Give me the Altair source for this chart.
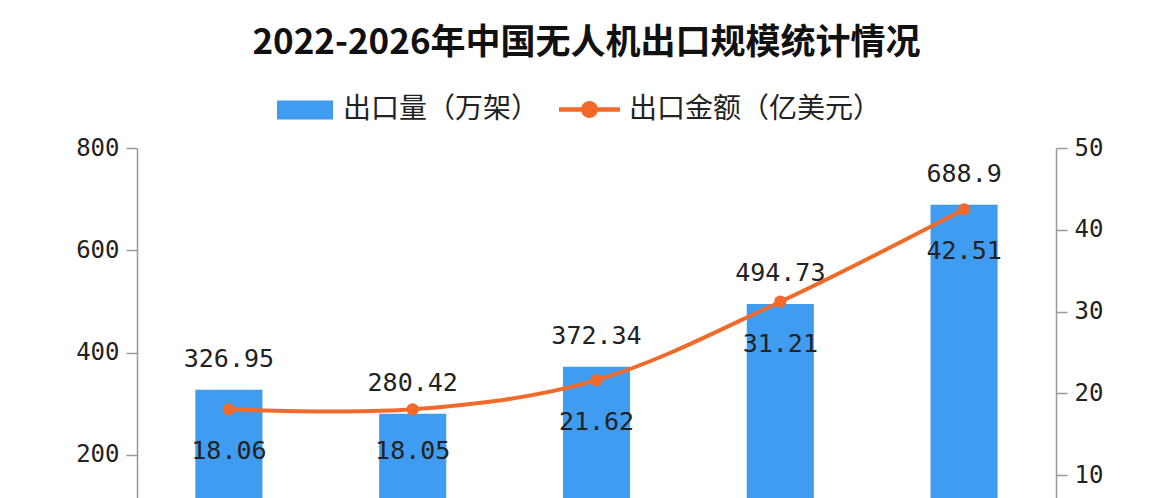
import altair as alt
import pandas as pd

years = ["2022", "2023", "2024", "2025E", "2026E"]
volume = [326.95, 280.42, 372.34, 494.73, 688.9]
volume_labels = ["326.95", "280.42", "372.34", "494.73", "688.9"]
amount = [18.06, 18.05, 21.62, 31.21, 42.51]
amount_labels = ["18.06", "18.05", "21.62", "31.21", "42.51"]

s_volume = "出口量（万架）"
s_amount = "出口金额（亿美元）"

BLUE = "#3F9CF0"
ORANGE = "#F26A2B"
NUM_FONT = "DejaVu Sans Mono"
CJK_FONT = "Noto Sans CJK SC"

df = pd.DataFrame({
    "year": years,
    "volume": volume,
    "vlabel": volume_labels,
    "amount": amount,
    "alabel": amount_labels,
    "s1": [s_volume] * len(years),
    "s2": [s_amount] * len(years),
})

axis_common = dict(
    title=None, grid=False, domainColor="#999999", tickColor="#999999",
    domainWidth=1.5, tickWidth=1.5, tickSize=11,
    labelFont=NUM_FONT, labelFontSize=24, labelColor="#222222",
)

x = alt.X("year:N", sort=years,
          scale=alt.Scale(paddingInner=0.635, paddingOuter=0.3175),
          axis=alt.Axis(labelAngle=0, ticks=False, labelPadding=20, **axis_common))

base = alt.Chart(df).encode(x=x)

y_left = alt.Y("volume:Q", scale=alt.Scale(domain=[0, 800]),
               axis=alt.Axis(orient="left", values=[0, 200, 400, 600, 800],
                             labelPadding=7, **axis_common))
y_right = alt.Y("amount:Q", scale=alt.Scale(domain=[0, 50]),
                axis=alt.Axis(orient="right", values=[0, 10, 20, 30, 40, 50],
                              labelPadding=7, **axis_common))

legend_common = dict(
    title=None, orient="none", direction="horizontal",
    labelFont=CJK_FONT, labelFontSize=28, labelColor="#222222", labelLimit=400,
    symbolStrokeWidth=0,
)

bars = base.mark_bar().encode(
    y=y_left,
    color=alt.Color("s1:N", scale=alt.Scale(range=[BLUE]),
                    legend=alt.Legend(symbolType="M-1,-0.34H1V0.34H-1Z", symbolSize=3136,
                                      labelOffset=10, legendX=140, legendY=-66,
                                      **legend_common)),
)
bar_text = base.mark_text(baseline="alphabetic", dy=-23, font=NUM_FONT, fontSize=25,
                          color="#222222").encode(y="volume:Q", text="vlabel:N")
left = alt.layer(bars, bar_text)

line = base.mark_line(color=ORANGE, strokeWidth=4, interpolate="cardinal").encode(y=y_right)
points = base.mark_circle(size=150, opacity=1).encode(
    y="amount:Q",
    color=alt.Color("s2:N", scale=alt.Scale(range=[ORANGE]),
                    legend=alt.Legend(
                        symbolType="M-1,-0.07H1V0.07H-1Z M-0.28,0A0.28,0.28 0 1,1 0.28,0A0.28,0.28 0 1,1 -0.28,0Z",
                        symbolSize=3721, labelOffset=9, legendX=422, legendY=-69,
                        **legend_common)),
)
amount_text = base.mark_text(baseline="alphabetic", dy=50, font=NUM_FONT, fontSize=25,
                             color="#222222").encode(y="amount:Q", text="alabel:N")
right = alt.layer(line, points, amount_text)

chart = alt.layer(left, right).resolve_scale(y="independent", color="independent").properties(
    width=919, height=409,
    title=alt.TitleParams("2022-2026年中国无人机出口规模统计情况", font=CJK_FONT, fontSize=35,
                          fontWeight="bold", color="#111111", anchor="middle", frame="group",
                          baseline="alphabetic", offset=26, dx=-10, dy=36),
    padding={"left": 129, "top": 140, "right": 109, "bottom": 80},
    autosize=alt.AutoSizeParams(type="none"),
    background="white",
).configure_view(stroke="transparent", strokeWidth=0)

chart.save("out.html", embed_options={"renderer": "svg", "actions": False})
